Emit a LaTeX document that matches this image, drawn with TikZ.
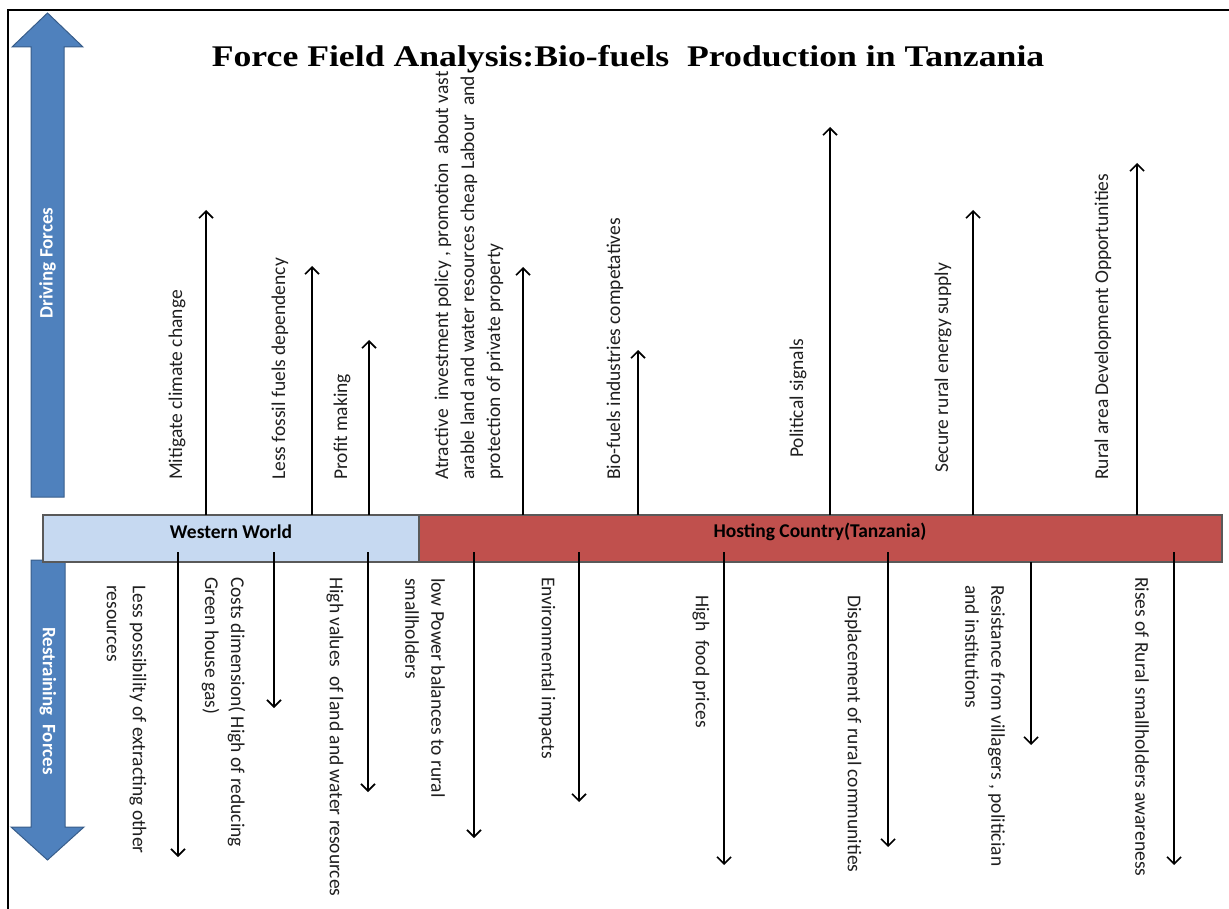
\documentclass[tikz,border=0pt]{standalone}
\usepackage{fontspec}
\setmainfont{Carlito}
\newfontfamily\titlefont{Liberation Serif}[FakeStretch=1.19]
\usetikzlibrary{arrows.meta}

\definecolor{blockblue}{HTML}{4F81BD}
\definecolor{blockedge}{HTML}{385D8A}
\definecolor{westfill}{HTML}{C6D9F1}
\definecolor{hostfill}{HTML}{C0504D}
\definecolor{baredge}{HTML}{595959}
\definecolor{labelgray}{HTML}{1F1F1F}

\tikzset{
  blockarrow/.style={fill=blockblue, draw=blockedge, line width=1pt, line join=miter},
  blocktext/.style={text=white, font=\bfseries\fontsize{19}{22}\selectfont, inner sep=0pt},
  barbox/.style={draw=baredge, line width=1.2pt, inner sep=0pt, minimum height=47pt},
  bartext/.style={font=\bfseries\fontsize{19.5}{22}\selectfont, inner sep=0pt},
  force/.style={line width=1.6pt, -{Straight Barb[length=7pt,width=14pt,line width=1.6pt]}},
  uplabel/.style={rotate=90, anchor=west, align=left, inner sep=0pt, text=labelgray,
    font=\fontsize{19.5}{26}\selectfont},
  downlabel/.style={rotate=-90, anchor=west, align=left, inner sep=0pt, text=labelgray,
    font=\fontsize{19.5}{26}\selectfont},
  heading/.style={font=\titlefont\bfseries\fontsize{30}{34}\selectfont, inner sep=0pt, anchor=base}
}

\begin{document}
\begin{tikzpicture}[x=1pt, y=-1pt]
  \useasboundingbox (0,0) rectangle (1229,909);

  % frame lines
  \draw[line width=2.5pt] (8,909) -- (8,10) -- (1229,10);

  % title
  \node[heading] (title) at (628,67) {Force Field Analysis:Bio-fuels\ \ Production in Tanzania};

  % block arrows on the left
  \draw[blockarrow] (31,497) -- (31,47) -- (12,47) -- (47.5,13) -- (83,47) -- (64,47) -- (64,497) -- cycle;
  \draw[blockarrow] (31,560) -- (31,827) -- (11,827) -- (47.5,860) -- (84,827) -- (65,827) -- (65,560) -- cycle;
  \node[blocktext, rotate=90] (driving) at (47.5,263) {Driving Forces};
  \node[blocktext, rotate=-90] (restraining) at (48,701) {Restraining\ \ Forces};

  % the two bars
  \node[barbox, fill=westfill, minimum width=376pt] (west) at (231,538.5) {};
  \node[barbox, fill=hostfill, minimum width=803pt] (host) at (820.5,538.5) {};
  \node[bartext] (westlabel) at (231,532) {Western World};
  \node[bartext] (hostlabel) at (820,532) {Hosting Country(Tanzania)};

  % driving forces
  \foreach \n/\x/\t in {d1/206/210, d2/312/266, d3/369/340, d4/523/267,
                        d5/638/350, d6/830/127, d7/973/210, d8/1137/163}{
    \coordinate (\n s) at (\x,515);
    \coordinate (\n t) at (\x,\t);
    \draw[force] (\n s) -- (\n t);
  }
  \node[uplabel] (ld1) at (177,480) {Mitigate climate change};
  \node[uplabel] (ld2) at (280,480) {Less fossil fuels dependency};
  \node[uplabel] (ld3) at (342,480) {Profit making};
  \node[uplabel] (ld4) at (469,480) {Atractive\ \ investment policy , promotion\ \ about vast\\arable land and water resources cheap Labour\ \ and\\protection of private property};
  \node[uplabel] (ld5) at (615,480) {Bio-fuels industries competatives};
  \node[uplabel] (ld6) at (798,458) {Political signals};
  \node[uplabel] (ld7) at (943,473) {Secure rural energy supply};
  \node[uplabel] (ld8) at (1103,480) {Rural area Development Opportunities};

  % restraining forces
  \foreach \n/\x/\s/\t in {r1/178/552/857, r2/274/552/708, r3/368/552/792,
                           r4/474/552/838, r5/579/552/802, r6/724/552/865,
                           r7/888/552/847, r8/1031/562/745, r9/1174/552/865}{
    \coordinate (\n s) at (\x,\s);
    \coordinate (\n t) at (\x,\t);
    \draw[force] (\n s) -- (\n t);
  }
  \node[downlabel] (lr1) at (126.5,585) {Less possibility of extracting other\\resources};
  \node[downlabel] (lr2) at (223.5,577) {Costs dimension( High of reducing\\Green house gas)};
  \node[downlabel] (lr3) at (335,577) {High values\ \ of land and water resources};
  \node[downlabel] (lr4) at (425,578) {low Power balances to rural\\smallholders};
  \node[downlabel] (lr5) at (547,577) {Environmental impacts};
  \node[downlabel] (lr6) at (701,595) {High\ \ food prices};
  \node[downlabel] (lr7) at (853,595) {Displacement of rural communities};
  \node[downlabel] (lr8) at (985,585) {Resistance from villagers , politician\\and institutions};
  \node[downlabel] (lr9) at (1142,577) {Rises of Rural smallholders awareness};
\end{tikzpicture}
\end{document}
